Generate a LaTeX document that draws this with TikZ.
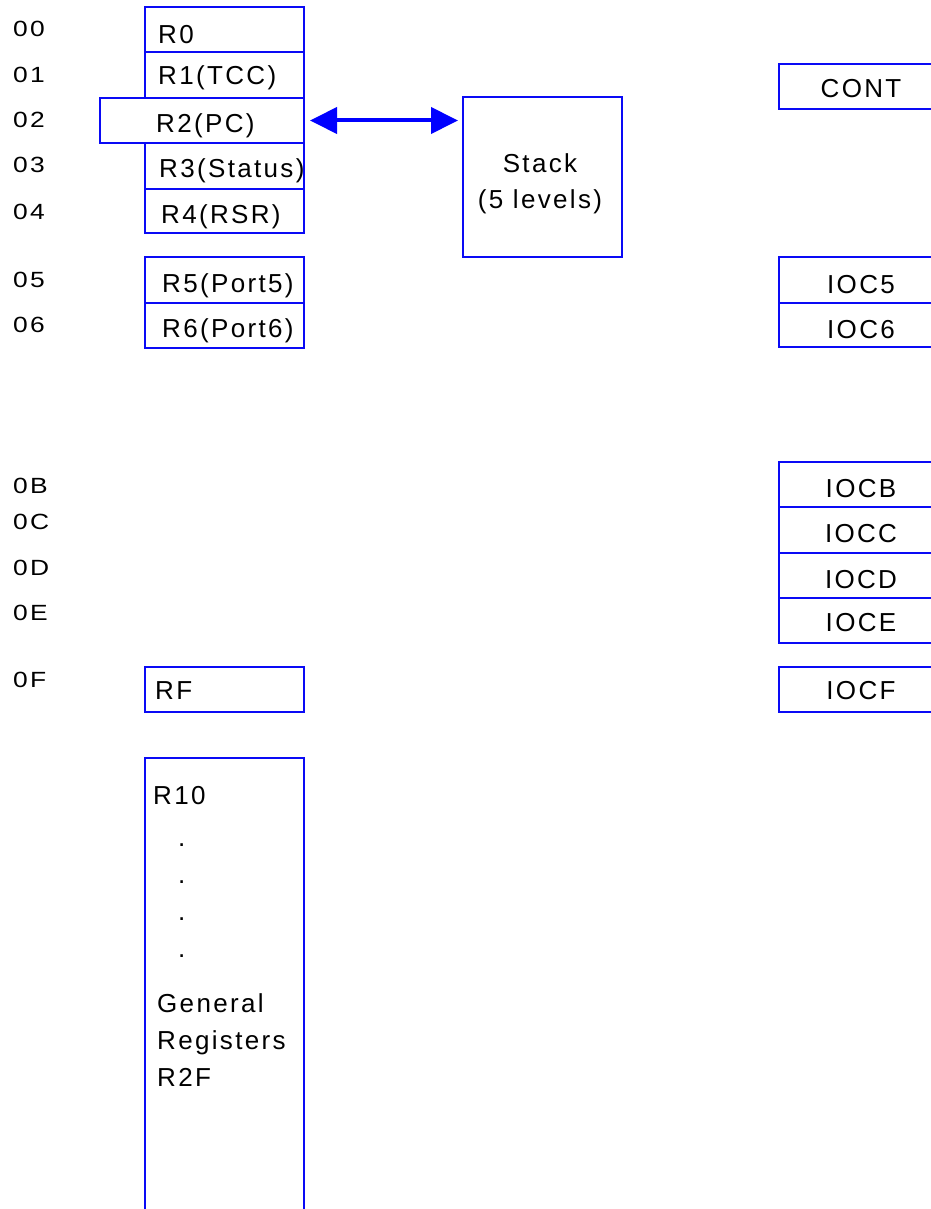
\documentclass[tikz,border=0pt]{standalone}
\usepackage{fontspec}
\setmainfont{Liberation Sans}
\newfontfamily\regfont[LetterSpace=9]{Liberation Sans}
\newfontfamily\addrfont[FakeStretch=1.2,LetterSpace=10]{Liberation Sans}
\usetikzlibrary{arrows.meta}
\definecolor{regblue}{RGB}{10,10,245}
\begin{document}
\begin{tikzpicture}[x=1pt,y=-1pt,
  reg/.style={draw=regblue, line width=1.3pt, minimum width=159pt, anchor=north west, inner sep=0pt, outer sep=0pt},
  txt/.style={font=\regfont\fontsize{26}{35}\selectfont, inner sep=0pt, anchor=base west},
  ctxt/.style={font=\regfont\fontsize{26}{35}\selectfont, inner sep=0pt, anchor=base},
  addr/.style={font=\addrfont\fontsize{22}{24}\selectfont, inner sep=0pt, anchor=base west},
  dblarrow/.style={draw=blue, line width=4pt, {Triangle[length=27pt,width=26pt]}-{Triangle[length=27pt,width=26pt]}}]
\useasboundingbox (0,0) rectangle (930,1209);
% left register column
\node[reg, minimum height=45pt] (r0) at (145,7) {};
\node[reg, minimum height=46pt] (r1) at (145,52) {};
\node[reg, minimum height=46pt] (r3) at (145,143) {};
\node[reg, minimum height=44pt] (r4) at (145,189) {};
\node[reg, minimum height=45pt, minimum width=204pt] (r2) at (100,98) {};
\node[reg, minimum height=46pt] (r5) at (145,257) {};
\node[reg, minimum height=45pt] (r6) at (145,303) {};
\node[reg, minimum height=45pt] (rf) at (145,667) {};
\node[reg, minimum height=470pt] (r10) at (145,758) {};
% stack
\node[reg, minimum height=160pt] (stack) at (463,97) {};
% right column
\node[reg, minimum height=45pt] (cont) at (779,64) {};
\node[reg, minimum height=46pt] (ioc5) at (779,257) {};
\node[reg, minimum height=44pt] (ioc6) at (779,303) {};
\node[reg, minimum height=45pt] (iocb) at (779,462) {};
\node[reg, minimum height=46pt] (iocc) at (779,507) {};
\node[reg, minimum height=45pt] (iocd) at (779,553) {};
\node[reg, minimum height=45pt] (ioce) at (779,598) {};
\node[reg, minimum height=45pt] (iocf) at (779,667) {};
% register texts
\node[txt] (t0) at (158,44) {R0};
\node[txt] (t1) at (158,85) {R1(TCC)};
\node[txt] (t2) at (156,133) {R2(PC)};
\node[txt] (t3) at (159,178) {R3(Status)};
\node[txt] (t4) at (161,223) {R4(RSR)};
\node[txt] (t5) at (162,292) {R5(Port5)};
\node[txt] (t6) at (162,337) {R6(Port6)};
\node[txt] (tf) at (155,699) {RF};
\node[txt] (t10) at (153,804) {R10};
\node[txt] (d1) at (178,846) {.};
\node[txt] (d2) at (178,883) {.};
\node[txt] (d3) at (178,920) {.};
\node[txt] (d4) at (178,957) {.};
\node[txt] (g1) at (157,1012) {General};
\node[txt] (g2) at (157,1049) {Registers};
\node[txt] (g3) at (157,1086) {R2F};
% stack text
\node[ctxt] (st1) at (540,173) {Stack};
\node[ctxt] (st2) at (540,208) {(5 levels)};
% right texts
\node[ctxt] (tc) at (861,98) {CONT};
\node[ctxt] (tc5) at (861,293) {IOC5};
\node[ctxt] (tc6) at (861,338) {IOC6};
\node[ctxt] (tcb) at (861,497) {IOCB};
\node[ctxt] (tcc) at (861,542) {IOCC};
\node[ctxt] (tcd) at (861,588) {IOCD};
\node[ctxt] (tce) at (861,631) {IOCE};
\node[ctxt] (tcf) at (861,699) {IOCF};
% addresses
\node[addr] (a00) at (13,37) {00};
\node[addr] (a01) at (13,83) {01};
\node[addr] (a02) at (13,128) {02};
\node[addr] (a03) at (13,173) {03};
\node[addr] (a04) at (13,219) {04};
\node[addr] (a05) at (13,287) {05};
\node[addr] (a06) at (13,332) {06};
\node[addr] (a0b) at (13,493) {0B};
\node[addr] (a0c) at (13,529) {0C};
\node[addr] (a0d) at (13,575) {0D};
\node[addr] (a0e) at (13,620) {0E};
\node[addr] (a0f) at (13,687) {0F};
% arrow
\draw[dblarrow, shorten <=6pt, shorten >=5pt] (r2.east) -- (stack.west |- r2.east);
\end{tikzpicture}
\end{document}
